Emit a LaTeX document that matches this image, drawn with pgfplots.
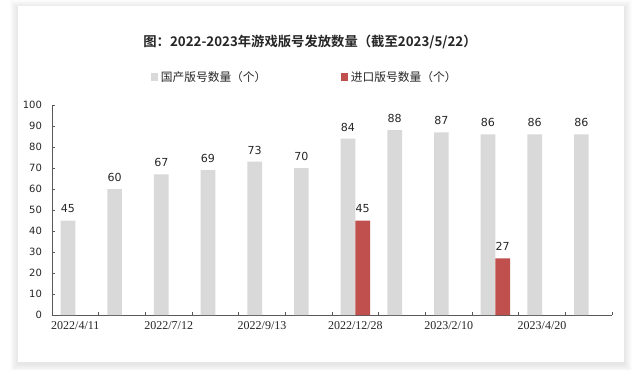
\documentclass[border=0pt]{standalone}
\usepackage{fontspec}
\setmainfont{DejaVu Sans}
\newfontfamily\cjk{Noto Sans CJK SC}[BoldFont={Noto Sans CJK SC Bold}]
\newfontfamily\serifnum{Liberation Serif}
\usepackage{pgfplots}
\pgfplotsset{compat=1.18}
\definecolor{barg}{HTML}{D9D9D9}
\definecolor{barr}{HTML}{C0504D}
\definecolor{axc}{HTML}{595959}
\definecolor{txt}{HTML}{262626}
\begin{document}
\begin{tikzpicture}
\begin{scope}[x=0.75pt,y=0.75pt]
\path[use as bounding box] (0,0) rectangle (640,369);
\foreach \i in {1,...,8}{
  \fill[black,opacity=0.012] (18-\i,7-\i-2) rectangle (624+\i,363+\i-2);
}
\fill[white] (18,7) rectangle (624,363);
\node[font=\cjk\bfseries\fontsize{10}{12}\selectfont, text=txt] at (310,327) {图：2022-2023年游戏版号发放数量（截至2023/5/22）};
\end{scope}
\begin{axis}[
  at={(39pt,40.5pt)}, anchor=south west,
  scale only axis, width=420pt, height=157.5pt,
  ymin=0, ymax=100, xmin=0.5, xmax=12.5,
  ybar, bar width=11pt,
  axis x line*=bottom, axis y line*=left,
  axis line style={axc,-, line width=0.6pt},
  tick align=inside, major tick length=2.5pt,
  tick style={axc, line width=0.5pt},
  ytick={0,10,...,100},
  xtick={1.5,2.5,3.5,4.5,5.5,6.5,7.5,8.5,9.5,10.5,11.5,12.5},
  xticklabels={},
  extra x ticks={1,3,5,7,9,11},
  extra x tick labels={2022/4/11,2022/7/12,2022/9/13,2022/12/28,2023/2/10,2023/4/20},
  extra x tick style={major tick length=0pt, tick label style={font=\serifnum\fontsize{9}{10}\selectfont, text=txt, yshift=-1pt}},
  yticklabel style={font=\fontsize{7.5}{9}\selectfont, text=txt, xshift=-4pt},
  /pgf/number format/assume math mode=true,
  nodes near coords,
  every node near coord/.append style={font=\fontsize{8.3}{9}\selectfont, text=txt, yshift=2pt},
  legend image code/.code={\fill[#1,draw=none] (0pt,-2.6pt) rectangle (5.4pt,2.8pt);},
  legend style={at={(0.452,1.133)}, anchor=center, draw=none, fill=none,
    legend columns=2, font=\cjk\fontsize{8.8}{10}\selectfont, text=txt,
    /tikz/every even column/.append style={column sep=54pt},
    /tikz/every odd column/.append style={inner xsep=0pt}},
]
\addplot[fill=barg, draw=none, bar shift=-5.5pt] coordinates {
(1,45) (2,60) (3,67) (4,69) (5,73) (6,70) (7,84) (8,88) (9,87) (10,86) (11,86) (12,86)};
\addlegendentry{国产版号数量（个）}
\addplot[fill=barr, draw=none, bar shift=5.5pt] coordinates {
(7,45) (10,27)};
\addlegendentry{进口版号数量（个）}
\end{axis}
\end{tikzpicture}
\end{document}
